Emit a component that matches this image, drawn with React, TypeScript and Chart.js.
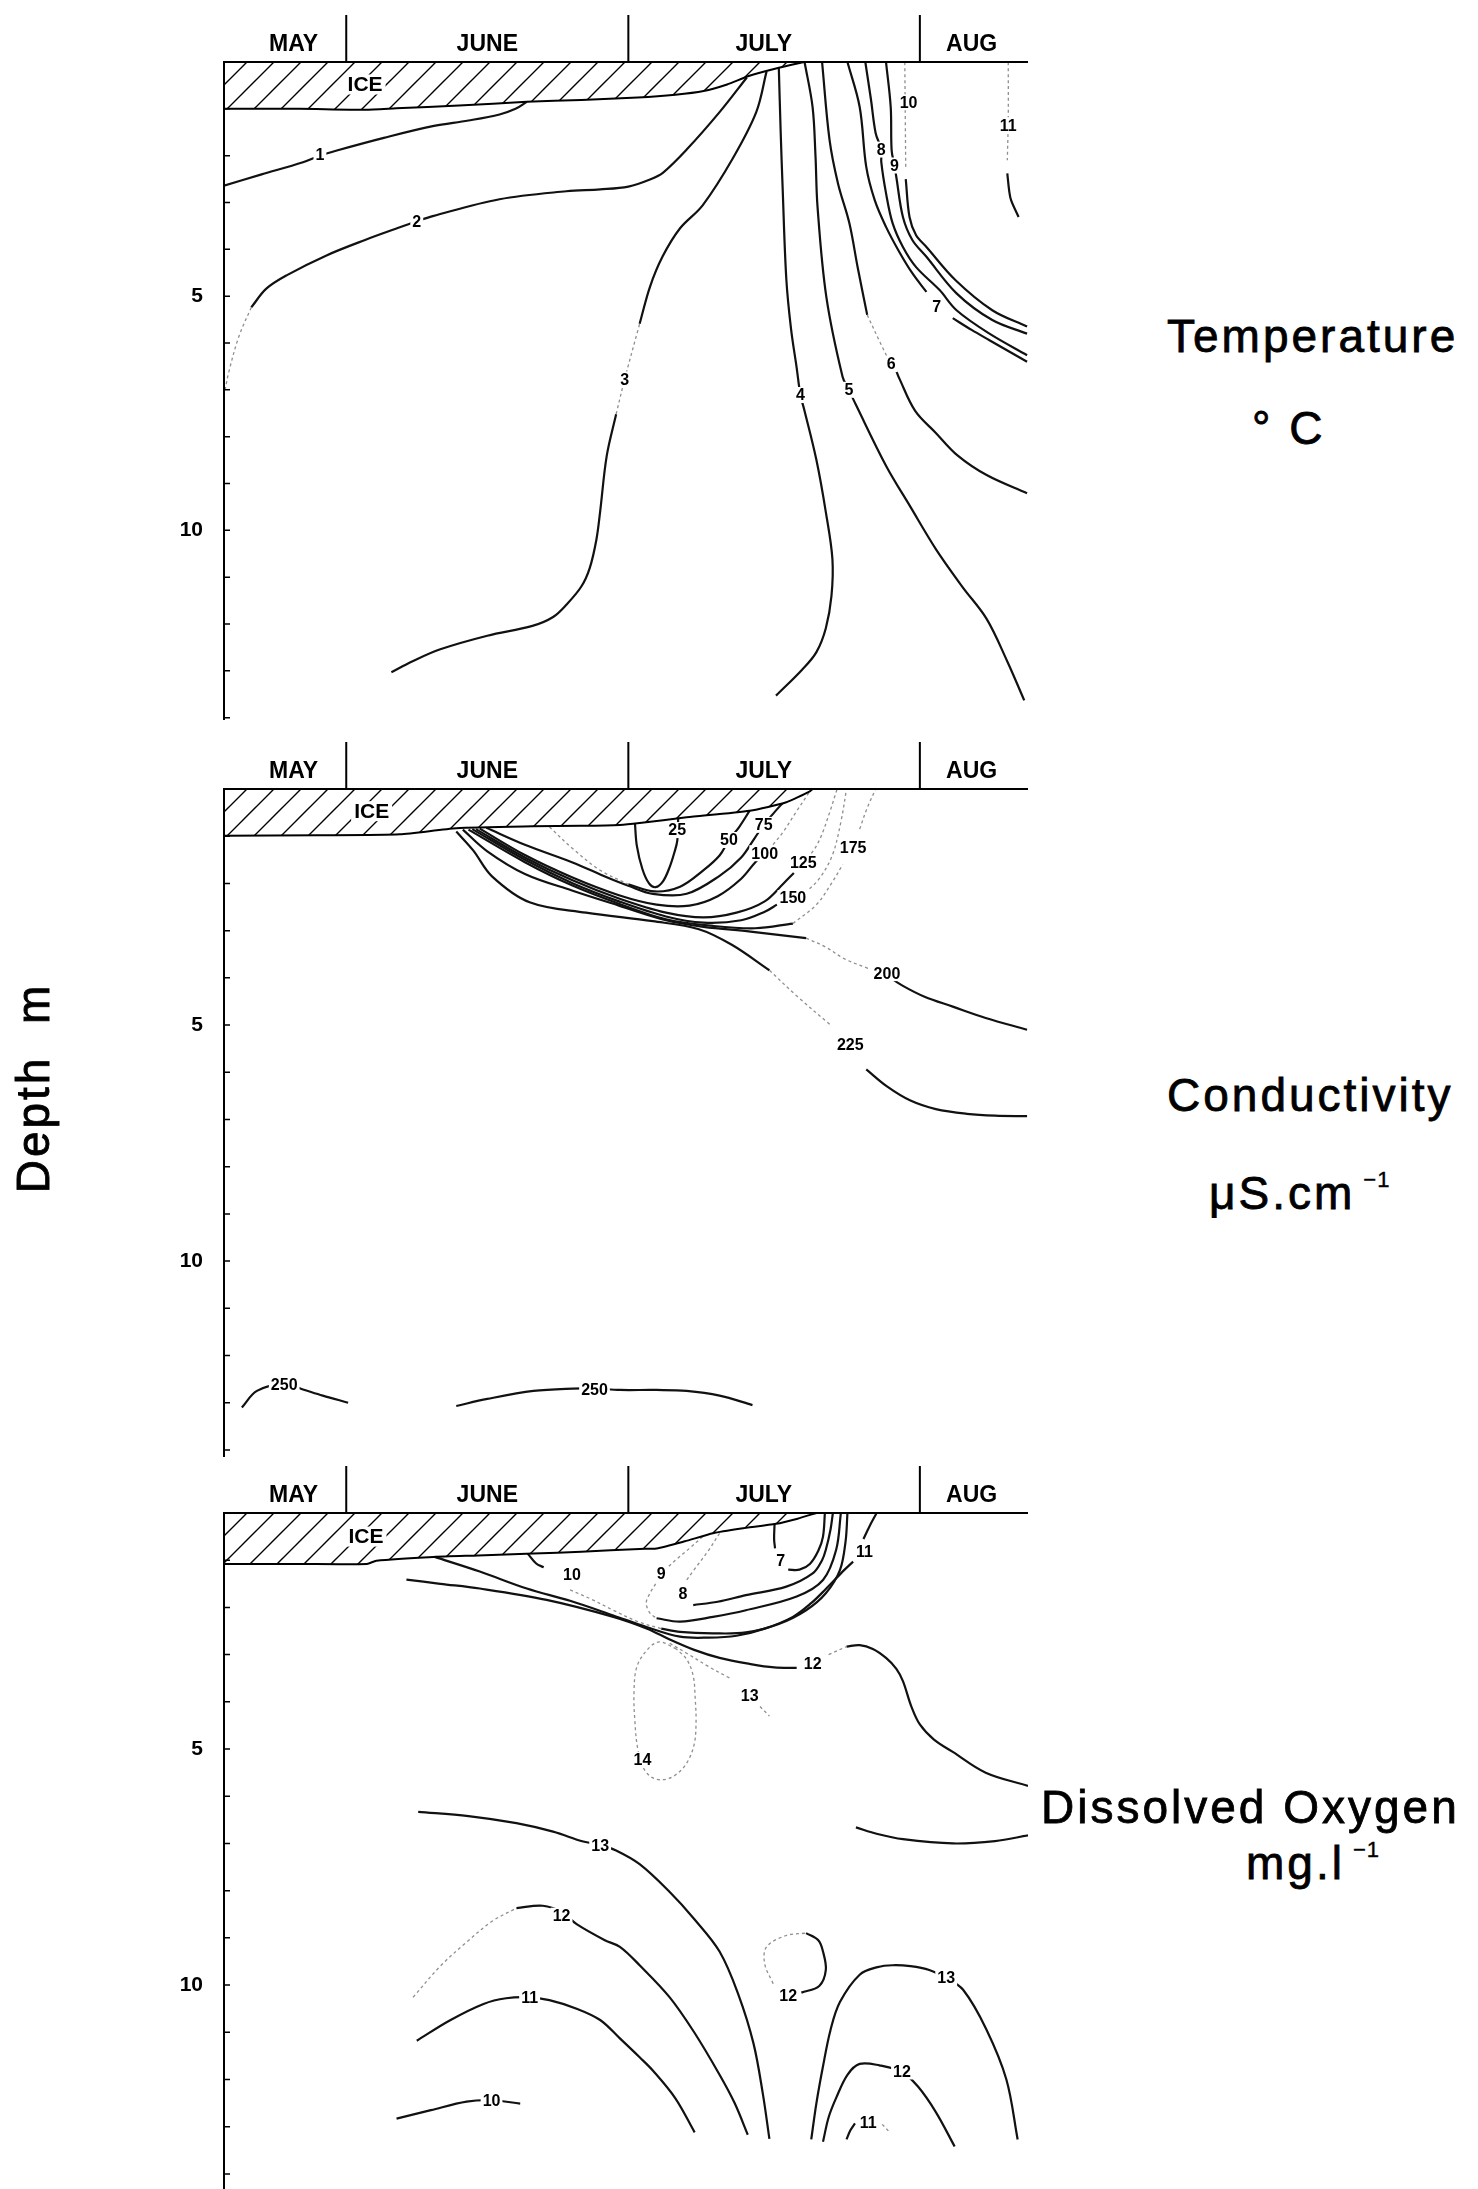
import React, { useEffect, useRef } from "react";
import { Chart, registerables } from "chart.js";

Chart.register(...registerables);

type Pt = [number, number]; // [day counted from 1 May, depth in m]
type Label = [number, number, string];

const FONT = '"Liberation Sans", Arial, Helvetica, sans-serif';

// ---------- axes ----------
const monthNames = ["MAY", "JUNE", "JULY", "AUG"];
const monthLabelDays = [25.4, 46, 75.4, 97.5]; // where each month name sits
const monthStarts = [31, 61, 92]; // 1 June, 1 July, 1 Aug (days from 1 May)
const dayMin = 18;
const dayMax = 103.5;
const depthTickLabels = [5, 10];

// ---------- Temperature (°C) ----------
const tempIce: Pt[] = [[18, 1.0], [26, 1.0], [33, 1.02], [36.3, 0.99], [43, 0.93], [50.2, 0.85], [56, 0.81], [62, 0.76], [66, 0.7], [69, 0.62], [71.5, 0.48], [73.8, 0.3], [76.7, 0.14], [79.7, 0]];
const temp1: Pt[] = [[18, 2.64], [22, 2.4], [26.4, 2.14], [28.2, 2.0], [30, 1.89], [35, 1.62], [40.2, 1.37], [44, 1.25], [47.3, 1.12], [49, 1.0], [50.2, 0.85]];
const temp2Faint: Pt[] = [[18, 7.13], [18.5, 6.63], [19.6, 5.85], [20.9, 5.24]];
const temp2: Pt[] = [[20.9, 5.24], [22.5, 4.84], [24.7, 4.55], [28.9, 4.13], [33, 3.8], [36.7, 3.53], [38.5, 3.4], [40.2, 3.29], [47.3, 2.93], [54.4, 2.76], [58, 2.72], [61, 2.66], [63.3, 2.51], [64.7, 2.36], [67.2, 1.87], [70.7, 1.07], [73.6, 0.33]];
const temp3: Pt[] = [[35.8, 13.03], [38, 12.8], [41, 12.54], [46, 12.25], [50.8, 12.04], [53, 11.85], [54.4, 11.59], [56, 11.2], [56.9, 10.8], [57.6, 10.2], [58, 9.6], [58.7, 8.41], [59.7, 7.52]];
const temp3Faint: Pt[] = [[59.7, 7.52], [60.6, 6.78], [62.2, 5.59]];
const temp3Top: Pt[] = [[62.2, 5.59], [63.3, 4.8], [64.65, 4.15], [66.5, 3.55], [68.9, 3.06], [72.1, 2.06], [74.6, 1.07], [75.7, 0.2]];
const temp4: Pt[] = [[77.0, 0.12], [77.2, 1.5], [77.4, 2.65], [77.8, 4.64], [78.3, 5.7], [78.9, 6.53], [79.3, 7.11], [79.7, 7.42], [81, 8.5], [82.0, 9.61], [82.7, 10.61], [82.6, 11.4], [82.0, 12.09], [81, 12.6], [79.5, 12.97], [76.7, 13.53]];
const temp5: Pt[] = [[79.74, 0], [80.59, 0.96], [80.9, 2], [81.12, 3.1], [82.05, 5.01], [83.78, 6.72], [84.45, 7.0], [85.2, 7.32], [88.4, 8.62], [91, 9.5], [93.7, 10.4], [96.5, 11.2], [99.1, 11.89], [101.3, 12.8], [103.1, 13.63]];
const temp6: Pt[] = [[81.6, 0], [82.4, 1.67], [83.3, 2.6], [84.5, 3.44], [85.4, 4.4], [86.4, 5.4]];
const temp6Faint: Pt[] = [[86.4, 5.4], [87.8, 6.0], [88.9, 6.45]];
const temp6Low: Pt[] = [[89.5, 6.6], [89.8, 6.75], [91.5, 7.45], [93.7, 7.92], [96, 8.4], [99.1, 8.82], [103.4, 9.21]];
const temp7: Pt[] = [[84.3, 0], [85.6, 0.96], [86.3, 2.24], [87.2, 2.95], [88.4, 3.52], [89.8, 4.05], [91.2, 4.51], [92.7, 4.91]];
const temp7Low: Pt[] = [[95.5, 5.47], [97.5, 5.72], [99.4, 5.94], [103.4, 6.4]];
const temp8: Pt[] = [[86.2, 0], [86.8, 0.8], [87.3, 1.52], [87.9, 1.87], [87.9, 2.14], [88.4, 2.8], [89.1, 3.44], [90.2, 3.95], [91.6, 4.38], [94.1, 4.87], [95.9, 5.3], [99.4, 5.8], [103.4, 6.26]];
const temp9: Pt[] = [[88.4, 0], [88.9, 0.96], [89.0, 1.89], [89.3, 2.21], [89.5, 2.46], [90.2, 3.31], [91.2, 3.8], [92.7, 4.16], [95.9, 4.94], [99.7, 5.51], [103.4, 5.8]];
const temp10Faint: Pt[] = [[90.4, 0], [90.45, 1.2], [90.5, 2.3]];
const temp10: Pt[] = [[90.5, 2.5], [90.9, 3.31], [91.6, 3.7], [92.7, 3.95], [95.8, 4.66], [99.7, 5.3], [103.4, 5.65]];
const temp11Faint: Pt[] = [[101.4, 0], [101.4, 1.2], [101.3, 2.1]];
const temp11: Pt[] = [[101.3, 2.38], [101.5, 2.75], [101.7, 2.95], [102.5, 3.31]];
const tempLabels: Label[] = [[28.2, 1.98, "1"], [38.5, 3.4, "2"], [60.6, 6.78, "3"], [79.3, 7.11, "4"], [84.45, 7.0, "5"], [88.96, 6.45, "6"], [93.8, 5.22, "7"], [87.9, 1.87, "8"], [89.3, 2.21, "9"], [90.8, 0.86, "10"], [101.4, 1.35, "11"]];

// ---------- Conductivity (µS/cm) ----------
const condIce: Pt[] = [[18, 0.99], [28, 0.98], [36.7, 0.96], [42.7, 0.83], [50.8, 0.79], [56, 0.78], [60.1, 0.76], [62.2, 0.72], [67.2, 0.6], [73.9, 0.46], [77.8, 0.28], [80.3, 0.05], [80.6, 0]];
const cond25: Pt[] = [[61.7, 0.72], [61.9, 1.2], [62.5, 1.7], [63.2, 2.0], [63.9, 2.08], [64.7, 1.95], [65.4, 1.65], [65.9, 1.34], [66.2, 1.1], [66.3, 0.62]];
const cond50Faint: Pt[] = [[52.6, 0.8], [55, 1.25], [58, 1.72], [61, 2.02]];
const cond50: Pt[] = [[61, 2.02], [63.8, 2.17], [66.5, 2.07], [69, 1.72], [70.7, 1.41], [71.7, 1.08], [72.8, 0.8], [73.9, 0.46]];
const cond75: Pt[] = [[45.9, 0.82], [50, 1.18], [55, 1.55], [58.7, 1.87], [61, 2.05], [63.6, 2.22], [67.2, 2.22], [70.7, 1.84], [73, 1.45], [74.4, 1.05], [75.4, 0.76], [76.5, 0.5], [77.4, 0.3]];
const cond100: Pt[] = [[45.2, 0.84], [50, 1.4], [55, 1.87], [60, 2.25], [64, 2.45], [67.5, 2.47], [70.5, 2.27], [73, 1.9], [74.5, 1.55], [75.5, 1.36]];
const cond100Faint: Pt[] = [[75.5, 1.36], [76.5, 1.15], [77.5, 0.9], [78.8, 0.5], [80.3, 0.05]];
const cond125: Pt[] = [[44.8, 0.85], [50, 1.45], [55, 1.93], [60, 2.32], [65, 2.62], [69, 2.72], [72.5, 2.62], [75.5, 2.38], [77.5, 2.0], [78.6, 1.78]];
const cond125Faint: Pt[] = [[79.6, 1.55], [80.7, 1.3], [81.5, 1.0], [82.4, 0.5], [83.2, 0.0]];
const cond150: Pt[] = [[44.4, 0.85], [50, 1.5], [55, 1.99], [60, 2.38], [65, 2.7], [69, 2.83], [73, 2.78], [75.5, 2.6], [76.8, 2.45]];
const cond150Faint: Pt[] = [[79.8, 2.2], [81.3, 1.9], [82.7, 1.4], [83.6, 0.7], [84.2, 0.0]];
const cond175: Pt[] = [[44.0, 0.86], [50, 1.55], [55, 2.04], [60, 2.43], [65, 2.76], [70, 2.9], [74.5, 2.95], [78.5, 2.85]];
const cond175Faint: Pt[] = [[78.5, 2.85], [81, 2.45], [82.6, 2.0], [83.8, 1.6]];
const cond175Top: Pt[] = [[85.6, 0.85], [86.4, 0.4], [87.3, 0.0]];
const cond200: Pt[] = [[43.4, 0.86], [46, 1.32], [50, 1.8], [55, 2.15], [60, 2.47], [65, 2.78], [69, 2.92], [74, 3.02], [79.9, 3.16]];
const cond200Faint: Pt[] = [[79.9, 3.16], [82, 3.35], [84, 3.6], [86.5, 3.8]];
const cond200Right: Pt[] = [[88.5, 3.95], [90.2, 4.17], [92.5, 4.4], [95.5, 4.61], [99, 4.85], [103.4, 5.1]];
const cond225: Pt[] = [[42.7, 0.9], [44.5, 1.3], [46.5, 1.85], [50.5, 2.4], [56.5, 2.62], [63.6, 2.8], [68.5, 2.97], [72, 3.3], [76, 3.84]];
const cond225Faint: Pt[] = [[76, 3.84], [79, 4.4], [82.5, 5.0]];
const cond225Right: Pt[] = [[86.3, 5.94], [88.5, 6.3], [91, 6.6], [93.7, 6.78], [97, 6.88], [100, 6.92], [103.4, 6.93]];
const cond250a: Pt[] = [[19.9, 13.1], [21.5, 12.75], [24.4, 12.6], [26.4, 12.72], [28.5, 12.85], [31.2, 13.0]];
const cond250b: Pt[] = [[42.7, 13.07], [46, 12.92], [50.9, 12.75], [55.1, 12.7], [57.4, 12.7], [60.1, 12.73], [64, 12.73], [67.2, 12.75], [70.7, 12.85], [74.2, 13.05]];
const condLabels: Label[] = [[66.2, 0.87, "25"], [71.7, 1.08, "50"], [75.4, 0.76, "75"], [75.5, 1.36, "100"], [79.6, 1.55, "125"], [78.5, 2.31, "150"], [84.9, 1.24, "175"], [88.5, 3.9, "200"], [84.6, 5.42, "225"], [24.4, 12.62, "250"], [57.4, 12.72, "250"]];

// ---------- Dissolved oxygen (mg/l) ----------
const doIce: Pt[] = [[18, 1.08], [26, 1.08], [33.2, 1.08], [34.2, 1.01], [40.3, 0.93], [45, 0.9], [50.9, 0.86], [56, 0.82], [62.2, 0.76], [64, 0.75], [67, 0.6], [70.0, 0.43], [73, 0.33], [76.7, 0.23], [79, 0.12], [81.0, 0.0]];
const do7: Pt[] = [[76.55, 0.23], [76.5, 0.55], [76.6, 0.75]];
const do7Loop: Pt[] = [[78.0, 1.2], [79.2, 1.2], [80.3, 1.08], [81.2, 0.8], [81.7, 0.5], [81.9, 0.0]];
const do8Faint: Pt[] = [[70.7, 0.43], [69.5, 0.8], [68, 1.2], [67.2, 1.42]];
const do8: Pt[] = [[67.9, 1.95], [70.5, 1.88], [73.5, 1.74], [77.8, 1.56], [80.6, 1.28], [81.6, 1.0], [82.0, 0.78], [82.5, 0.35], [82.75, 0.0]];
const do9Faint: Pt[] = [[68.9, 0.5], [67.5, 0.75], [66, 1.0], [65.2, 1.15]];
const do9Arc: Pt[] = [[63.9, 1.5], [63.3, 1.7], [62.9, 1.91], [63.3, 2.12], [64.0, 2.23]];
const do9: Pt[] = [[64.0, 2.23], [66.5, 2.3], [70, 2.2], [73.5, 2.06], [78.9, 1.77], [81.7, 1.42], [83.1, 0.78], [83.6, 0.0]];
const do10Hook: Pt[] = [[50.3, 0.86], [51.2, 1.07], [52.0, 1.15]];
const do10Faint: Pt[] = [[54.8, 1.63], [57, 1.82], [59.4, 2.06], [62, 2.3], [64.5, 2.45]];
const do10: Pt[] = [[64.5, 2.45], [66.5, 2.52], [70, 2.55], [73.5, 2.53], [77, 2.35], [79.9, 2.06], [82, 1.7], [83.5, 1.21], [84.1, 0.6], [84.3, 0.0]];
const do11: Pt[] = [[40.4, 0.93], [45.2, 1.24], [50.2, 1.6], [54.8, 1.86], [59.4, 2.17], [63, 2.42], [66.5, 2.62], [69.5, 2.64], [72.5, 2.6], [75.5, 2.45], [78.5, 2.2], [80.5, 1.9], [82.0, 1.61], [84.0, 1.2], [84.9, 1.03]];
const do11Top: Pt[] = [[86.0, 0.55], [86.6, 0.3], [87.4, 0.0]];
const do12: Pt[] = [[37.4, 1.41], [41, 1.5], [45.2, 1.6], [52.3, 1.84], [59.4, 2.2], [63, 2.45], [65.4, 2.68], [68, 2.9], [70.7, 3.07], [74, 3.2], [76.5, 3.27], [78.9, 3.28]];
const do12Faint: Pt[] = [[82.3, 3.0], [84.2, 2.83]];
const do12Bump: Pt[] = [[84.2, 2.83], [85.6, 2.8], [87, 2.88], [88.4, 3.07], [89.5, 3.3], [90.2, 3.56], [91.1, 4.1], [92, 4.48], [93.5, 4.8], [95.5, 5.06], [99, 5.5], [103.5, 5.78]];
const do13UpFaint: Pt[] = [[65.4, 2.76], [67.2, 2.97], [69.5, 3.25], [71.8, 3.5]];
const do13UpEnd: Pt[] = [[75, 4.1], [76, 4.3]];
const do14Faint: Pt[] = [[66.1, 2.88], [64.3, 2.73], [63, 2.9], [61.9, 3.26], [61.6, 3.8], [61.7, 4.43], [62.0, 5.0], [62.6, 5.4], [63.5, 5.6], [64.7, 5.65], [66, 5.55], [67.2, 5.3], [68.0, 4.9], [68.2, 4.43], [68.1, 3.9], [67.9, 3.45], [67.2, 3.1], [66.1, 2.88]];
const doRight: Pt[] = [[85.2, 6.66], [87.5, 6.8], [90.2, 6.91], [95.5, 7.0], [100, 6.95], [103.5, 6.83]];
const do13Low: Pt[] = [[38.65, 6.33], [44, 6.42], [49.1, 6.57], [53, 6.75], [56.2, 6.96], [58, 7.03], [59.7, 7.15], [62.2, 7.44], [65.4, 8.03], [68, 8.6], [70.7, 9.29], [72.7, 10.2], [74.3, 11.23], [75.3, 12.3], [76.0, 13.26]];
const do12LowFaint: Pt[] = [[38.1, 10.26], [41, 9.6], [43.8, 9.09], [46.5, 8.65], [49.1, 8.37]];
const do12Low: Pt[] = [[49.1, 8.37], [51.9, 8.32], [53.9, 8.45], [55.5, 8.71], [58.5, 9.05], [60.1, 9.19], [62.2, 9.58], [65.4, 10.26], [68, 11.0], [70.7, 11.9], [72.3, 12.5], [73.7, 13.17]];
const do11Low: Pt[] = [[38.5, 11.18], [42, 10.75], [45.6, 10.4], [48, 10.28], [50.5, 10.26], [52.6, 10.32], [55.5, 10.5], [58, 10.74], [60.1, 11.13], [62.2, 11.53], [63.6, 11.81], [66, 12.4], [68.05, 13.12]];
const do10Low: Pt[] = [[36.35, 12.83], [40, 12.65], [43.8, 12.47], [46.45, 12.44], [49.5, 12.51]];
const do12MidFaint: Pt[] = [[76.4, 9.97], [75.5, 9.55], [75.7, 9.19], [77.8, 8.95], [79.9, 8.9]];
const do12Mid: Pt[] = [[79.9, 8.9], [81.2, 9.05], [81.7, 9.29], [82.0, 9.68], [81.3, 10.02], [79.4, 10.16]];
const do13Right: Pt[] = [[80.45, 13.27], [81.0, 12.5], [81.7, 11.72], [82.5, 10.95], [83.5, 10.36], [85.6, 9.78], [87.5, 9.62], [89.1, 9.58], [91, 9.6], [93.0, 9.68], [94.8, 9.85], [96.6, 10.1], [99.05, 10.93], [101.2, 12.0], [102.4, 13.27]];
const do12Right: Pt[] = [[81.7, 13.32], [82.3, 12.8], [83.1, 12.39], [84.3, 11.9], [85.6, 11.67], [87.7, 11.7], [90.1, 11.84], [91.8, 12.15], [93.7, 12.69], [95.7, 13.42]];
const do11Right: Pt[] = [[84.2, 13.27], [84.6, 13.08], [85.1, 12.93]];
const do11RightFaint: Pt[] = [[88.0, 12.95], [88.8, 13.12]];
const doLabels: Label[] = [[55.0, 1.31, "10"], [64.5, 1.29, "9"], [66.8, 1.7, "8"], [77.2, 1.0, "7"], [86.1, 0.81, "11"], [80.6, 3.2, "12"], [73.9, 3.87, "13"], [62.5, 5.23, "14"], [58.0, 7.05, "13"], [53.9, 8.53, "12"], [50.5, 10.26, "11"], [46.45, 12.44, "10"], [78.0, 10.22, "12"], [94.8, 9.85, "13"], [90.1, 11.83, "12"], [86.5, 12.92, "11"]];

const iceLabelPos: Pt[] = [[33.0, 0.48], [33.7, 0.47], [33.1, 0.5]];

// ---------- panel assembly ----------
interface PanelSpec {
  top: number;
  height: number;
  padBottom: number;
  ymax: number;
  ice: Pt[];
  solid: Pt[][];
  faint: Pt[][];
  labels: Label[];
  iceAt: Pt;
}

const panels: PanelSpec[] = [
  {
    top: 12, height: 714, padBottom: 6, ymax: 14.05, ice: tempIce,
    solid: [temp1, temp2, temp3, temp3Top, temp4, temp5, temp6, temp6Low, temp7, temp7Low, temp8, temp9, temp10, temp11],
    faint: [temp2Faint, temp3Faint, temp6Faint, temp10Faint, temp11Faint],
    labels: tempLabels, iceAt: iceLabelPos[0],
  },
  {
    top: 739, height: 724, padBottom: 6, ymax: 14.15, ice: condIce,
    solid: [cond25, cond50, cond75, cond100, cond125, cond150, cond175, cond200, cond200Right, cond225, cond225Right, cond250a, cond250b],
    faint: [cond50Faint, cond100Faint, cond125Faint, cond150Faint, cond175Faint, cond175Top, cond200Faint, cond225Faint],
    labels: condLabels, iceAt: iceLabelPos[1],
  },
  {
    top: 1463, height: 726, padBottom: 0, ymax: 14.32, ice: doIce,
    solid: [do7, do7Loop, do8, do9, do10Hook, do10, do11, do11Top, do12, do12Bump, doRight, do13Low, do12Low, do11Low, do10Low, do12Mid, do13Right, do12Right, do11Right],
    faint: [do8Faint, do9Faint, do9Arc, do10Faint, do12Faint, do13UpFaint, do13UpEnd, do14Faint, do12LowFaint, do12MidFaint, do11RightFaint],
    labels: doLabels, iceAt: iceLabelPos[2],
  },
];

function makeHatch(): CanvasPattern | string {
  const s = 27;
  const c = document.createElement("canvas");
  c.width = s;
  c.height = s;
  const g = c.getContext("2d");
  if (!g) return "#ddd";
  g.fillStyle = "#fff";
  g.fillRect(0, 0, s, s);
  g.strokeStyle = "#000";
  g.lineWidth = 1.4;
  g.beginPath();
  g.moveTo(-3, 3); g.lineTo(3, -3);
  g.moveTo(0, s); g.lineTo(s, 0);
  g.moveTo(s - 3, s + 3); g.lineTo(s + 3, s - 3);
  g.stroke();
  return g.createPattern(c, "repeat") || "#ddd";
}

const toXY = (pts: Pt[]) => pts.map(([x, y]) => ({ x, y }));

function Panel({ spec }: { spec: PanelSpec }) {
  const ref = useRef<HTMLCanvasElement>(null);
  useEffect(() => {
    if (!ref.current) return;
    const hatch = makeHatch();
    const datasets: any[] = [
      {
        data: toXY(spec.ice), borderColor: "#000", borderWidth: 2, pointRadius: 0,
        tension: 0.2, fill: { value: 0 }, backgroundColor: hatch,
      },
    ];
    spec.faint.forEach((f) =>
      datasets.push({ data: toXY(f), borderColor: "#8f8f8f", borderWidth: 1.3, borderDash: [3, 3], pointRadius: 0, tension: 0.35, fill: false })
    );
    spec.solid.forEach((s) =>
      datasets.push({ data: toXY(s), borderColor: "#111", borderWidth: 2.2, pointRadius: 0, tension: 0.35, fill: false })
    );

    const decor = {
      id: "decor",
      afterDatasetsDraw(chart: any) {
        const { ctx, chartArea: a, scales } = chart;
        const x = scales.x;
        const y = scales.y;
        ctx.save();
        // contour value labels (knock out the line beneath)
        ctx.font = `bold 16px ${FONT}`;
        ctx.textAlign = "center";
        ctx.textBaseline = "middle";
        spec.labels.forEach(([dx, dy, t]) => {
          const px = x.getPixelForValue(dx);
          const py = y.getPixelForValue(dy);
          const w = ctx.measureText(t).width;
          ctx.fillStyle = "#fff";
          ctx.fillRect(px - w / 2 - 2, py - 8, w + 4, 16);
          ctx.fillStyle = "#000";
          ctx.fillText(t, px, py + 1);
        });
        // ICE
        ctx.font = `bold 21px ${FONT}`;
        const ix = x.getPixelForValue(spec.iceAt[0]);
        const iy = y.getPixelForValue(spec.iceAt[1]);
        const iw = ctx.measureText("ICE").width;
        ctx.fillStyle = "#fff";
        ctx.fillRect(ix - iw / 2 - 3, iy - 10, iw + 6, 20);
        ctx.fillStyle = "#000";
        ctx.fillText("ICE", ix, iy + 1);
        // frame: left axis + surface line + month separators
        ctx.strokeStyle = "#000";
        ctx.lineWidth = 2;
        ctx.beginPath();
        ctx.moveTo(a.left, a.bottom);
        ctx.lineTo(a.left, a.top);
        ctx.lineTo(a.right, a.top);
        monthStarts.forEach((d) => {
          const px = x.getPixelForValue(d);
          ctx.moveTo(px, a.top - 47);
          ctx.lineTo(px, a.top);
        });
        ctx.stroke();
        // inward depth ticks
        ctx.lineWidth = 1.5;
        ctx.beginPath();
        y.ticks.forEach((t: any) => {
          if (!Number.isInteger(t.value)) return;
          const py = y.getPixelForValue(t.value);
          ctx.moveTo(a.left, py);
          ctx.lineTo(a.left + 6, py);
        });
        ctx.stroke();
        // month names
        ctx.font = `bold 23px ${FONT}`;
        ctx.textBaseline = "alphabetic";
        ctx.fillStyle = "#000";
        monthNames.forEach((m, i) => {
          const px = x.getPixelForValue(monthLabelDays[i]);
          ctx.fillText(m, px, a.top - 11);
        });
        ctx.restore();
      },
    };

    const chart = new Chart(ref.current, {
      type: "line",
      data: { datasets },
      options: {
        responsive: false,
        animation: false,
        devicePixelRatio: 1,
        events: [],
        layout: { padding: { top: 50, right: 32, bottom: spec.padBottom, left: 0 } },
        plugins: { legend: { display: false }, tooltip: { enabled: false } },
        scales: {
          x: { type: "linear", min: dayMin, max: dayMax, display: false },
          y: {
            type: "linear",
            reverse: true,
            min: 0,
            max: spec.ymax,
            afterFit: (s: any) => {
              s.width = 224;
              s.paddingTop = 0;
              s.paddingBottom = 0;
            },
            grid: { display: false, drawTicks: false },
            border: { display: false },
            ticks: {
              stepSize: 1,
              autoSkip: false,
              includeBounds: false,
              padding: 21,
              color: "#000",
              font: { family: FONT, weight: "bold", size: 21 },
              callback: (v: any) => (depthTickLabels.includes(Number(v)) ? String(v) : ""),
            },
          },
        },
      } as any,
      plugins: [decor],
    });
    return () => chart.destroy();
  }, [spec]);
  return (
    <canvas
      ref={ref}
      width={1060}
      height={spec.height}
      style={{ position: "absolute", left: 0, top: spec.top, width: 1060, height: spec.height }}
    />
  );
}

const titleBase: React.CSSProperties = {
  position: "absolute",
  fontFamily: FONT,
  fontSize: 46,
  lineHeight: "46px",
  letterSpacing: "3px",
  color: "#000",
  whiteSpace: "pre",
  WebkitTextStroke: "0.8px #000",
};
const supStyle: React.CSSProperties = {
  fontSize: 22,
  position: "relative",
  top: -22,
  marginLeft: 8,
  letterSpacing: "1px",
  WebkitTextStroke: "0.4px #000",
};

export default function App() {
  return (
    <div style={{ position: "absolute", left: 0, top: 0, width: 1478, height: 2189, overflow: "hidden", background: "#fff" }}>
      {panels.map((p, i) => (
        <Panel key={i} spec={p} />
      ))}
      <div style={{ ...titleBase, left: 1167, top: 313 }}>Temperature</div>
      <div style={{ ...titleBase, left: 1252, top: 405 }}>° C</div>
      <div style={{ ...titleBase, left: 1167, top: 1072 }}>Conductivity</div>
      <div style={{ ...titleBase, left: 1209, top: 1170 }}>
        μS.cm<span style={supStyle}>−1</span>
      </div>
      <div style={{ ...titleBase, left: 1041, top: 1784 }}>Dissolved Oxygen</div>
      <div style={{ ...titleBase, left: 1246, top: 1840 }}>
        mg.l<span style={supStyle}>−1</span>
      </div>
      <div
        style={{
          ...titleBase,
          left: 33 - 120,
          top: 1088 - 23,
          width: 240,
          height: 46,
          textAlign: "center",
          transform: "rotate(-90deg)",
          transformOrigin: "50% 50%",
        }}
      >
        Depth  m
      </div>
    </div>
  );
}
